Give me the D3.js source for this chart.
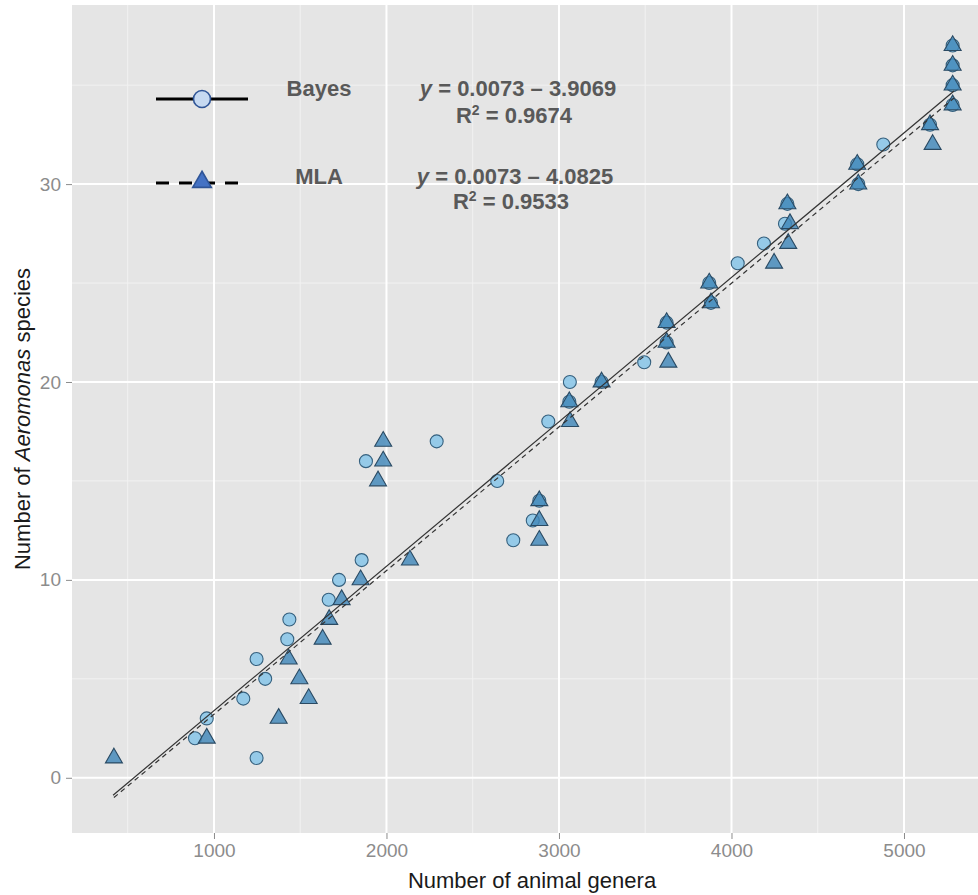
<!DOCTYPE html>
<html>
<head>
<meta charset="utf-8">
<script src="https://cdn.jsdelivr.net/npm/d3@7"></script>
<style>
html,body{margin:0;padding:0;background:#fff;}
svg{display:block;font-family:"Liberation Sans",Arial,sans-serif;}
</style>
</head>
<body>
<svg id="chart" width="978" height="895"></svg>
<script>
// ---- data ----
const bayesX = [890, 958, 1170, 1247, 1247, 1297, 1425, 1437, 1665, 1725, 1856, 1881, 2291, 2642, 2735, 2848, 2886, 2938, 3063, 3060, 3247, 3494, 3624, 3624, 3881, 3871, 4036, 4188, 4310, 4324, 4735, 4729, 4880, 5151, 5282, 5282, 5282, 5282];
const bayesY = [2, 3, 4, 6, 1, 5, 7, 8, 9, 10, 11, 16, 17, 15, 12, 13, 14, 18, 20, 19, 20, 21, 22, 23, 24, 25, 26, 27, 28, 29, 30, 31, 32, 33, 34, 35, 36, 37];
const mlaX = [420, 958, 1375, 1549, 1495, 1433, 1630, 1668, 1740, 1850, 2136, 1951, 1981, 1981, 2886, 2886, 2886, 3064, 3060, 3247, 3634, 3624, 3624, 3881, 3871, 4247, 4329, 4339, 4324, 4735, 4729, 5166, 5151, 5282, 5282, 5282, 5282];
const mlaY = [1, 2, 3, 4, 5, 6, 7, 8, 9, 10, 11, 15, 16, 17, 12, 13, 14, 18, 19, 20, 21, 22, 23, 24, 25, 26, 27, 28, 29, 30, 31, 32, 33, 34, 35, 36, 37];
const fitNames = ["Bayes", "MLA"];
const fitSlopeLabel = ["0.0073", "0.0073"];
const fitInterceptLabel = ["3.9069", "4.0825"];
const fitR2 = ["0.9674", "0.9533"];
// fitted line end points [genera, species]
const bayesLineX = [415, 5290];
const bayesLineY = [-0.88, 34.7];
const mlaLineX = [420, 5290];
const mlaLineY = [-1.0, 34.35];
const xTicks = [1000, 2000, 3000, 4000, 5000];
const xMinor = [500, 1500, 2500, 3500, 4500];
const yTicks = [0, 10, 20, 30];
const yMinor = [5, 15, 25, 35];

// ---- layout ----
const P = {left: 72, right: 978, top: 5, bottom: 833};
const x = d3.scaleLinear().domain([177, 5429]).range([P.left, P.right]);
const y = d3.scaleLinear().domain([-2.79, 39.05]).range([P.bottom, P.top]);

const svg = d3.select("#chart");
svg.append("rect").attr("x", P.left).attr("y", P.top)
  .attr("width", P.right - P.left).attr("height", P.bottom - P.top)
  .attr("fill", "#e5e5e5");

const grid = svg.append("g");
grid.selectAll(".xm").data(xMinor).enter().append("line")
  .attr("x1", d => x(d)).attr("x2", d => x(d)).attr("y1", P.top).attr("y2", P.bottom)
  .attr("stroke", "#f2f2f2").attr("stroke-width", 1);
grid.selectAll(".ym").data(yMinor).enter().append("line")
  .attr("y1", d => y(d)).attr("y2", d => y(d)).attr("x1", P.left).attr("x2", P.right)
  .attr("stroke", "#f2f2f2").attr("stroke-width", 1);
grid.selectAll(".xM").data(xTicks).enter().append("line")
  .attr("x1", d => x(d)).attr("x2", d => x(d)).attr("y1", P.top).attr("y2", P.bottom)
  .attr("stroke", "#ffffff").attr("stroke-width", 2);
grid.selectAll(".yM").data(yTicks).enter().append("line")
  .attr("y1", d => y(d)).attr("y2", d => y(d)).attr("x1", P.left).attr("x2", P.right)
  .attr("stroke", "#ffffff").attr("stroke-width", 2);

// axes
const xAxis = d3.axisBottom(x).tickValues(xTicks).tickSize(6).tickPadding(5).tickFormat(d3.format("d"));
const gx = svg.append("g").attr("transform", `translate(0,${P.bottom})`).call(xAxis);
gx.select(".domain").remove();
gx.selectAll(".tick line").attr("stroke", "#8c8c8c");
gx.selectAll(".tick text").attr("fill", "#8c8c8c").attr("font-size", 19)
  .attr("font-family", "'Liberation Sans',Arial,sans-serif");

const yAxis = d3.axisLeft(y).tickValues(yTicks).tickSize(6).tickPadding(5);
const gy = svg.append("g").attr("transform", `translate(${P.left},0)`).call(yAxis);
gy.select(".domain").remove();
gy.selectAll(".tick line").attr("stroke", "#8c8c8c");
gy.selectAll(".tick text").attr("fill", "#8c8c8c").attr("font-size", 19)
  .attr("font-family", "'Liberation Sans',Arial,sans-serif");

// axis titles
svg.append("text").attr("x", (P.left + P.right) / 2 + 7).attr("y", 888)
  .attr("text-anchor", "middle").attr("font-size", 22).attr("fill", "#1a1a1a")
  .text("Number of animal genera");
const yt = svg.append("text").attr("transform", `translate(30,${(P.top + P.bottom) / 2}) rotate(-90)`)
  .attr("text-anchor", "middle").attr("font-size", 22).attr("fill", "#1a1a1a");
yt.append("tspan").text("Number of ");
yt.append("tspan").attr("font-style", "italic").text("Aeromonas");
yt.append("tspan").text(" species");

// points
const bayesPts = bayesX.map((d, i) => ({x: d, y: bayesY[i]}));
const mlaPts = mlaX.map((d, i) => ({x: d, y: mlaY[i]}));
svg.append("g").selectAll("circle").data(bayesPts).enter().append("circle")
  .attr("cx", d => x(d.x)).attr("cy", d => y(d.y)).attr("r", 6.5)
  .attr("fill", "#8cc6e8").attr("fill-opacity", 0.9)
  .attr("stroke", "#35607e").attr("stroke-width", 1.1);
const tri = d3.symbol().type(d3.symbolTriangle).size(125);
svg.append("g").selectAll("path").data(mlaPts).enter().append("path")
  .attr("d", tri).attr("transform", d => `translate(${x(d.x)},${y(d.y)})`)
  .attr("fill", "#3f86b8").attr("fill-opacity", 0.82)
  .attr("stroke", "#2a4a63").attr("stroke-width", 1.1);

// fit lines
const line = d3.line().x(d => x(d[0])).y(d => y(d[1]));
const fitLines = [
  bayesLineX.map((v, i) => [v, bayesLineY[i]]),
  mlaLineX.map((v, i) => [v, mlaLineY[i]])
];
fitLines.forEach((pts, i) => {
  svg.append("path").attr("d", line(pts)).attr("fill", "none")
    .attr("stroke", "#333").attr("stroke-width", 1.2)
    .attr("stroke-dasharray", i === 1 ? "5,4" : null);
});

// legend annotation
const legY = [99, 183];
svg.append("line").attr("x1", 156).attr("x2", 248).attr("y1", legY[0]).attr("y2", legY[0])
  .attr("stroke", "#000").attr("stroke-width", 3);
svg.append("line").attr("x1", 156).attr("x2", 240).attr("y1", legY[1]).attr("y2", legY[1])
  .attr("stroke", "#000").attr("stroke-width", 3).attr("stroke-dasharray", "13,10");
svg.append("circle").attr("cx", 202).attr("cy", legY[0]).attr("r", 8.5)
  .attr("fill", "#c6d9f1").attr("stroke", "#2f5597").attr("stroke-width", 1.6);
svg.append("path").attr("d", d3.symbol().type(d3.symbolTriangle).size(150)())
  .attr("transform", `translate(202,${legY[1] - 1})`)
  .attr("fill", "#4472c4").attr("stroke", "#2f5597").attr("stroke-width", 1.6);

const tCol = "#595959";
const nameX = [319, 319];
const eqX = [518, 515];
const eqBase = [96, 184];
const r2Base = [123, 209];
fitNames.forEach((n, i) => {
  svg.append("text").attr("x", nameX[i]).attr("y", eqBase[i]).attr("text-anchor", "middle")
    .attr("font-size", 22).attr("font-weight", "bold").attr("fill", tCol).text(n);
  const eq = svg.append("text").attr("x", eqX[i]).attr("y", eqBase[i]).attr("text-anchor", "middle")
    .attr("font-size", 22).attr("font-weight", "bold").attr("fill", tCol);
  eq.append("tspan").attr("font-style", "italic").text("y");
  eq.append("tspan").text(` = ${fitSlopeLabel[i]} \u2013 ${fitInterceptLabel[i]}`);
  const r2 = svg.append("text").attr("x", eqX[i] - 4).attr("y", r2Base[i]).attr("text-anchor", "middle")
    .attr("font-size", 22).attr("font-weight", "bold").attr("fill", tCol);
  r2.append("tspan").text("R");
  r2.append("tspan").attr("font-size", 14).attr("dy", -8).text("2");
  r2.append("tspan").attr("dy", 8).text(` = ${fitR2[i]}`);
});
</script>
</body>
</html>
